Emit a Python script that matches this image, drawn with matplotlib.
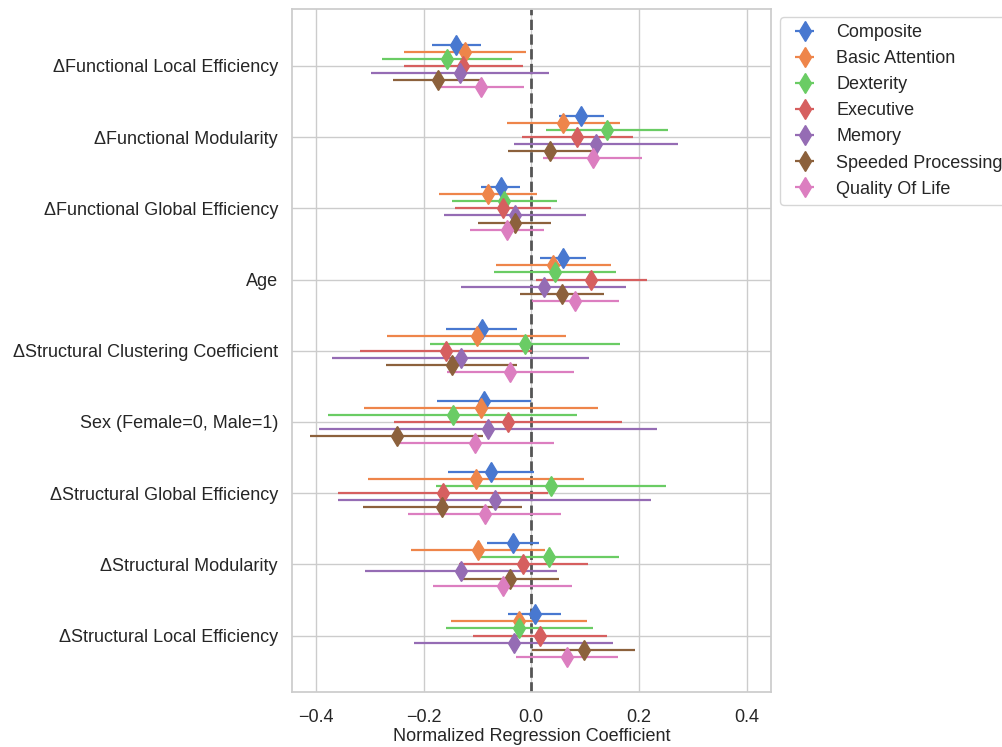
import matplotlib
matplotlib.use("Agg")
import matplotlib.pyplot as plt
import seaborn as sns
import numpy as np

predictors = [
    "ΔFunctional Local Efficiency",
    "ΔFunctional Modularity",
    "ΔFunctional Global Efficiency",
    "Age",
    "ΔStructural Clustering Coefficient",
    "Sex (Female=0, Male=1)",
    "ΔStructural Global Efficiency",
    "ΔStructural Modularity",
    "ΔStructural Local Efficiency",
]
outcomes = ["Composite", "Basic Attention", "Dexterity", "Executive",
            "Memory", "Speeded Processing", "Quality Of Life"]

# coefficient per outcome (one value per predictor, top to bottom)
composite = [-0.139, 0.093, -0.057, 0.059, -0.092, -0.088, -0.075, -0.034, 0.006]
basic_attention = [-0.123, 0.059, -0.080, 0.041, -0.101, -0.094, -0.103, -0.099, -0.023]
dexterity = [-0.156, 0.141, -0.050, 0.044, -0.012, -0.146, 0.037, 0.032, -0.022]
executive = [-0.126, 0.085, -0.053, 0.111, -0.158, -0.043, -0.164, -0.015, 0.016]
memory = [-0.133, 0.120, -0.030, 0.023, -0.131, -0.080, -0.068, -0.131, -0.033]
speeded = [-0.173, 0.034, -0.031, 0.057, -0.148, -0.250, -0.165, -0.040, 0.097]
quality = [-0.093, 0.114, -0.045, 0.082, -0.039, -0.104, -0.086, -0.053, 0.066]

# half-width of the confidence interval
composite_err = [0.045, 0.042, 0.036, 0.042, 0.066, 0.087, 0.080, 0.049, 0.050]
basic_attention_err = [0.114, 0.105, 0.091, 0.106, 0.166, 0.217, 0.201, 0.124, 0.127]
dexterity_err = [0.121, 0.113, 0.097, 0.113, 0.176, 0.231, 0.213, 0.131, 0.136]
executive_err = [0.111, 0.103, 0.089, 0.103, 0.160, 0.212, 0.195, 0.120, 0.124]
memory_err = [0.165, 0.153, 0.132, 0.153, 0.239, 0.314, 0.290, 0.178, 0.185]
speeded_err = [0.084, 0.078, 0.068, 0.078, 0.122, 0.161, 0.148, 0.091, 0.095]
quality_err = [0.079, 0.092, 0.068, 0.080, 0.118, 0.147, 0.142, 0.129, 0.095]

coefs = [composite, basic_attention, dexterity, executive, memory, speeded, quality]
errs = [composite_err, basic_attention_err, dexterity_err, executive_err,
        memory_err, speeded_err, quality_err]

sns.set_theme(style="whitegrid")
plt.rcParams['font.family'] = ['Liberation Sans', 'DejaVu Sans']
colors = sns.color_palette("muted", 7)

fig = plt.figure(figsize=(10.02, 7.47), dpi=100)
ax = fig.add_axes([0.291, 0.073, 0.4785, 0.915])

base = np.arange(len(predictors))
offsets = np.linspace(-0.3, 0.3, len(outcomes))
for i, name in enumerate(outcomes):
    ax.errorbar(coefs[i], base + offsets[i], xerr=errs[i], fmt='d',
                color=colors[i], markersize=10, elinewidth=1.6, capsize=0,
                label=name)

ax.axvline(0, color='#555555', linestyle='--', linewidth=2, zorder=1)

ax.set_yticks(base)
ax.set_yticklabels(predictors, fontsize=13)
ax.set_ylim(8.8, -0.8)
ax.set_xlim(-0.445, 0.445)
ax.set_xticks([-0.4, -0.2, 0.0, 0.2, 0.4])
ax.tick_params(axis='x', labelsize=13, pad=6)
ax.tick_params(axis='y', pad=3.8)
ax.set_xlabel("Normalized Regression Coefficient", fontsize=13, labelpad=1.5)
for s in ax.spines.values():
    s.set_color('#cccccc')

ax.legend(loc='upper left', bbox_to_anchor=(1.019, 0.988), fontsize=13,
          frameon=True, borderaxespad=0, handlelength=1.9, handletextpad=0.8,
          labelspacing=0.5)

fig.savefig("out.png", dpi=100)
